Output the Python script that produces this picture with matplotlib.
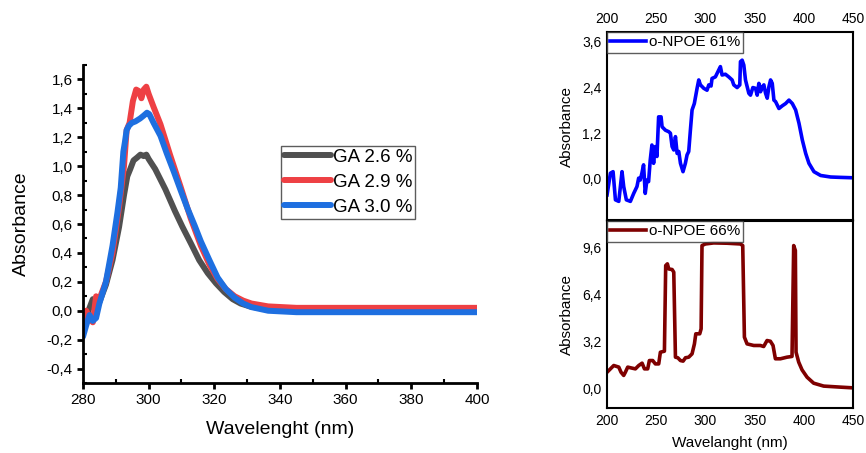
import numpy as np
import matplotlib
matplotlib.use("Agg")
import matplotlib.pyplot as plt
from matplotlib.ticker import FuncFormatter, MultipleLocator

# left panel: GA spectra
wl_gray = [280, 281, 282, 283, 284, 285, 287, 289, 291, 292.5, 293.5, 294.4, 295.4, 296.5, 297.5, 298.5, 299.3,
           300, 302, 305.1, 308, 310.3, 313, 315.4, 318, 320.5, 323, 325.6, 328, 330.8, 335.9, 345, 370, 400]
abs_gray = [-0.12, -0.04, 0.02, 0.08, 0.05, 0.06, 0.18, 0.35, 0.58, 0.8, 0.93, 0.98, 1.04, 1.06, 1.08, 1.07, 1.08,
            1.05, 0.98, 0.84, 0.69, 0.58, 0.46, 0.35, 0.26, 0.19, 0.13, 0.08, 0.05, 0.03, 0.01, 0.0, 0.0, 0.0]

wl_red = [280, 281, 282, 283, 284, 285, 287, 289, 291, 292.5, 293.3, 294.2, 295.2, 296.2, 297, 297.8, 298.5, 299.3,
          300, 301.5, 303.6, 306.5, 309.7, 312.8, 315.9, 318.5, 321, 323.5, 326.2, 328.8, 331.3, 336.4, 345, 370, 400]
abs_red = [-0.05, 0.0, -0.05, -0.08, 0.1, 0.08, 0.2, 0.4, 0.72, 1.0, 1.25, 1.3, 1.45, 1.53, 1.52, 1.47, 1.53, 1.55,
           1.5, 1.41, 1.29, 1.08, 0.86, 0.64, 0.45, 0.32, 0.22, 0.15, 0.1, 0.07, 0.05, 0.03, 0.02, 0.02, 0.02]

wl_blue = [280, 281, 282, 283, 284, 285, 287, 289, 290.5, 291.5, 292.3, 292.8, 293.3, 294, 294.9, 296, 297.4, 298.5,
           299.5, 300.2, 301.5, 303.6, 305.5, 307.7, 309.8, 311.8, 314, 315.9, 318.5, 321, 323.5, 326.2, 328.8, 331.3,
           336.4, 345, 370, 400]
abs_blue = [-0.18, -0.1, -0.03, -0.07, -0.05, 0.05, 0.2, 0.45, 0.68, 0.85, 1.1, 1.17, 1.25, 1.28, 1.3, 1.31, 1.33,
            1.35, 1.37, 1.36, 1.3, 1.21, 1.09, 0.96, 0.83, 0.71, 0.59, 0.48, 0.35, 0.23, 0.15, 0.09, 0.05, 0.025,
            0.0, -0.01, -0.01, -0.01]

ga_labels = ["GA 2.6 %", "GA 2.9 %", "GA 3.0 %"]
ga_colors = ["#505050", "#ee4044", "#1e6fe0"]

# right top: o-NPOE 61%
wl_61 = [200, 203.4, 206.1, 208.5, 211.9, 215.2, 216.9, 219.6, 223.7, 227.1, 230.4, 232.1, 233.7, 235.4, 237.1,
         238.8, 240.5, 242.2, 243.9, 245.6, 247.3, 249, 250.7, 252.4, 254.9, 255.9, 259.3, 262.7, 264.4, 266.1,
         267.8, 269.5, 271.2, 272.9, 274.6, 277.2, 279.6, 281.3, 283, 284.7, 286.4, 288.7, 291.5, 293.2, 294.9,
         298.3, 301.6, 303.4, 305.7, 306.7, 310.1, 313.5, 315.2, 316.9, 320.3, 323.7, 327.1, 328.8, 332.2, 334.9,
         335.6, 337.3, 339, 340.7, 344.1, 345.8, 348.2, 350.9, 352.6, 354.3, 356, 357.7, 359.4, 361.1, 362.8,
         364.5, 366.2, 367.9, 369.6, 371.3, 374.7, 378.1, 381.5, 384.9, 388.3, 391.7, 395.1, 398.5, 401.9, 405.2,
         410.3, 417.1, 427.3, 437.5, 450]
abs_61 = [-0.42, 0.15, 0.19, -0.55, -0.59, 0.19, -0.2, -0.55, -0.59, -0.38, -0.2, 0.02, -0.03, 0.15, 0.37,
          -0.38, -0.03, -0.07, 0.5, 0.89, 0.41, 0.85, 0.59, 1.63, 1.63, 1.37, 1.28, 1.24, 1.2, 0.85,
          0.76, 1.11, 0.67, 0.72, 0.41, 0.19, 0.41, 0.63, 0.72, 1.28, 1.81, 1.98, 2.38, 2.6, 2.47,
          2.38, 2.33, 2.47, 2.44, 2.64, 2.68, 2.86, 2.95, 2.73, 2.75, 2.68, 2.6, 2.47, 2.4, 2.47,
          3.08, 3.12, 2.99, 2.6, 2.25, 2.2, 2.4, 2.38, 2.2, 2.51, 2.29, 2.42, 2.47, 2.25, 2.12,
          2.42, 2.6, 2.51, 2.07, 2.03, 1.85, 1.92, 1.98, 2.07, 1.98, 1.81, 1.46, 1.02, 0.67, 0.41,
          0.19, 0.09, 0.05, 0.04, 0.03]

# right bottom: o-NPOE 66%
wl_66 = [200, 203.4, 206.8, 211.9, 214.2, 216.9, 218.6, 221, 225.4, 228.8, 232.2, 235.6, 238, 241.3, 243, 246.4,
         249.1, 252.5, 254.2, 258.3, 259.6, 261.3, 262.7, 266.1, 267.8, 269.5, 271.9, 274.6, 277.3, 279.7, 283,
         286.4, 288.8, 290.2, 294.2, 295.6, 296.5, 299.9, 308.4, 322, 335.5, 337.9, 339.6, 342.3, 349.1, 355.8,
         359.2, 362.6, 366, 368.7, 371.1, 376.2, 382.9, 388, 389.7, 391.4, 392.1, 394.8, 398.2, 403.3, 410,
         420.2, 437.1, 450]
abs_66 = [1.09, 1.32, 1.55, 1.44, 1.09, 0.87, 1.09, 1.44, 1.37, 1.32, 1.55, 1.71, 1.32, 1.32, 1.89, 1.89,
          1.66, 1.66, 2.46, 2.53, 8.39, 8.51, 8.16, 8.12, 7.94, 2.12, 2.08, 1.89, 1.85, 2.08, 2.12,
          2.35, 3.03, 3.72, 3.72, 4.06, 9.76, 9.87, 9.94, 9.92, 9.87, 9.76, 3.49, 3.03, 2.92, 2.92,
          2.85, 3.26, 3.21, 2.92, 2.01, 2.01, 2.12, 2.17, 9.76, 9.42, 2.46, 1.78, 1.25, 0.75, 0.34,
          0.14, 0.07, 0.02]

comma = FuncFormatter(lambda v, p: ("%.1f" % v).replace(".", ","))

plt.rcParams["font.family"] = ["Liberation Sans", "DejaVu Sans"]
fig = plt.figure(figsize=(8.66, 4.53), dpi=100)

# left panel
ax = fig.add_axes([0.0958, 0.1545, 0.455, 0.702])
for wl, ab, lab, col in zip([wl_gray, wl_red, wl_blue], [abs_gray, abs_red, abs_blue], ga_labels, ga_colors):
    ax.plot(wl, ab, color=col, lw=4.3, label=lab, solid_capstyle="round")
ax.set_xlim(280, 400)
ax.set_ylim(-0.5, 1.7)
ax.yaxis.set_minor_locator(MultipleLocator(0.1))
ax.xaxis.set_major_locator(MultipleLocator(20))
ax.xaxis.set_minor_locator(MultipleLocator(10))
ax.set_yticks([-0.4, -0.2, 0, 0.2, 0.4, 0.6, 0.8, 1.0, 1.2, 1.4, 1.6])
ax.yaxis.set_major_formatter(comma)
for s in ["top", "right"]:
    ax.spines[s].set_visible(False)
for s in ["left", "bottom"]:
    ax.spines[s].set_linewidth(2)
ax.tick_params(which="major", direction="out", length=4, width=2, labelsize=11)
ax.tick_params(which="minor", direction="in", length=3, width=1.5)
ax.set_xlabel("Wavelenght (nm)", fontsize=14, labelpad=10)
ax.set_ylabel("Absorbance", fontsize=14, labelpad=12)
leg = ax.legend(loc="upper left", bbox_to_anchor=(0.503, 0.745), fontsize=13.5, frameon=True, fancybox=False,
                handlelength=2.5, handletextpad=0.1, borderpad=0.15, labelspacing=0.42, borderaxespad=0)
leg.get_frame().set_edgecolor("#333333")
leg.get_frame().set_linewidth(1)

# right top
ax1 = fig.add_axes([0.701, 0.5143, 0.284, 0.4151])
ax1.plot(wl_61, abs_61, color="#0000ff", lw=2.6, label="o-NPOE 61%")
ax1.set_xlim(200, 450)
ax1.set_ylim(-1.08, 3.86)
ax1.set_yticks([0, 1.2, 2.4, 3.6])
ax1.yaxis.set_major_formatter(comma)
ax1.set_xticks([200, 250, 300, 350, 400, 450])
ax1.xaxis.tick_top()
ax1.tick_params(length=0, labelsize=10, pad=4)
ax1.set_ylabel("Absorbance", fontsize=11, labelpad=6)

# right bottom
ax2 = fig.add_axes([0.701, 0.0993, 0.284, 0.4128])
ax2.plot(wl_66, abs_66, color="#7f0000", lw=2.6, label="o-NPOE 66%")
ax2.set_xlim(200, 450)
ax2.set_ylim(-1.36, 11.44)
ax2.set_yticks([0, 3.2, 6.4, 9.6])
ax2.yaxis.set_major_formatter(comma)
ax2.set_xticks([200, 250, 300, 350, 400, 450])
ax2.tick_params(length=0, labelsize=10, pad=4)
ax2.set_ylabel("Absorbance", fontsize=11, labelpad=6)
ax2.set_xlabel("Wavelanght (nm)", fontsize=11, labelpad=6)

for a in [ax1, ax2]:
    for s in a.spines.values():
        s.set_linewidth(1.5)
    lg = a.legend(loc="upper left", fontsize=11, frameon=True, fancybox=False, borderaxespad=0,
                  handlelength=2.3, handletextpad=0.2, borderpad=0.22)
    lg.get_frame().set_edgecolor("#333333")
    lg.get_frame().set_linewidth(1)

fig.savefig("out.png", dpi=100)
